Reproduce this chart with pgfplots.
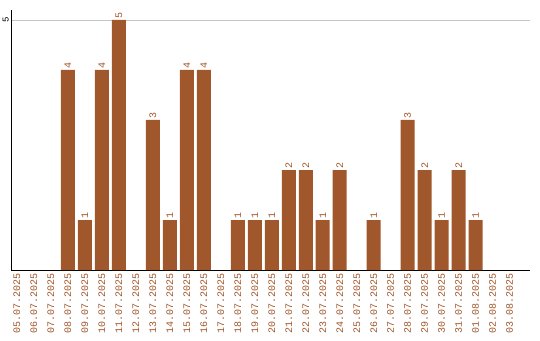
\documentclass[border=0pt]{standalone}
\usepackage{pgfplots}
\pgfplotsset{compat=1.18}
\usepackage{fontspec}
\setmainfont{Liberation Mono}
\definecolor{barc}{HTML}{A0572B}
\begin{document}
\begin{tikzpicture}
\begin{axis}[scale only axis,
  width=519pt, height=260pt,
  xmin=-0.35, xmax=30.2, ymin=0, ymax=5.2,
  axis x line*=bottom, axis y line*=left,
  axis line style={-, line width=1pt, black},
  major tick length=0pt,
  xtick={0,...,29},
  xticklabels={05.07.2025,06.07.2025,07.07.2025,08.07.2025,09.07.2025,10.07.2025,11.07.2025,12.07.2025,13.07.2025,14.07.2025,15.07.2025,16.07.2025,17.07.2025,18.07.2025,19.07.2025,20.07.2025,21.07.2025,22.07.2025,23.07.2025,24.07.2025,25.07.2025,26.07.2025,27.07.2025,28.07.2025,29.07.2025,30.07.2025,31.07.2025,01.08.2025,02.08.2025,03.08.2025},
  xticklabel style={rotate=90, anchor=east, text=barc, font=\fontsize{10}{10}\selectfont, inner sep=3pt},
  ytick={5},
  yticklabel style={rotate=90, anchor=south, font=\fontsize{9}{9}\selectfont, inner sep=2pt},
  ymajorgrids, grid style={gray!45, line width=0.8pt},
  /pgf/number format/assume math mode=true,
  nodes near coords,
  nodes near coords style={rotate=90, anchor=west, text=barc, font=\fontsize{10}{10}\selectfont, inner sep=1.5pt},
  clip=false,
]
\addplot[ybar, bar width=14pt, fill=barc, draw=none] coordinates {
(3,4) (4,1) (5,4) (6,5) (8,3) (9,1) (10,4) (11,4)
(13,1) (14,1) (15,1) (16,2) (17,2) (18,1) (19,2)
(21,1) (23,3) (24,2) (25,1) (26,2) (27,1)
};
\path ([shift={(-11pt,-70pt)}]rel axis cs:0,0) rectangle ([shift={(10pt,10pt)}]rel axis cs:1,1);
\end{axis}
\end{tikzpicture}
\end{document}
